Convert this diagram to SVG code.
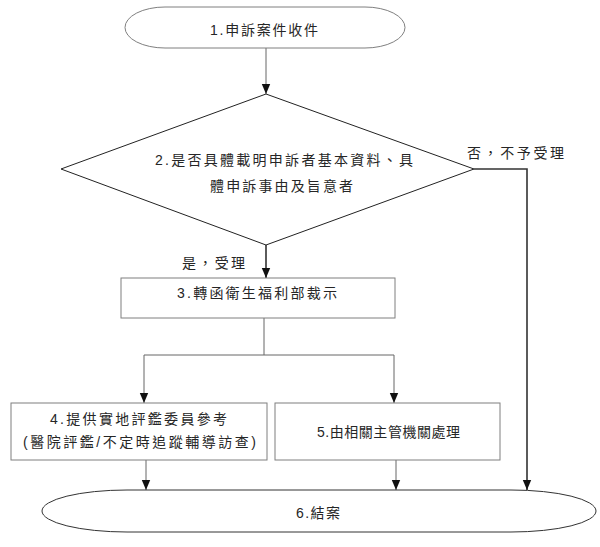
<svg xmlns="http://www.w3.org/2000/svg" width="600" height="547" viewBox="0 0 600 547">
<style>
.shape{fill:#fff;stroke:#7f7f7f;stroke-width:1}
.t{font-family:"Liberation Sans","Noto Sans CJK TC",sans-serif;font-size:14px;fill:#262626}
.c{fill:none;stroke:#666;stroke-width:1}
.c2{fill:none;stroke:#333;stroke-width:1.6}
</style>
<defs>
<marker id="ah" markerUnits="userSpaceOnUse" markerWidth="10" markerHeight="10" viewBox="0 0 10 10" refX="10" refY="5" orient="auto">
<path d="M0,0.8 L10,5 L0,9.2 Z" fill="#111"/>
</marker>
</defs>
<rect width="600" height="547" fill="#fff"/>
<g id="connectors">
<path class="c" d="M266,48 V94" marker-end="url(#ah)"/>
<path class="c2" d="M266,245 V278" marker-end="url(#ah)"/>
<path class="c2" d="M474,169 H527 V490" marker-end="url(#ah)"/>
<path class="c" d="M264,318 V355 M144,355 H394"/>
<path class="c" d="M144,355 V403" marker-end="url(#ah)"/>
<path class="c" d="M394,355 V403" marker-end="url(#ah)"/>
<path class="c" d="M146,460 V490" marker-end="url(#ah)"/>
<path class="c" d="M396,460 V490" marker-end="url(#ah)"/>
<text class="t" x="467" y="158" textLength="97" lengthAdjust="spacing">否，不予受理</text>
<text class="t" x="182" y="268" textLength="63" lengthAdjust="spacing">是，受理</text>
</g>
<g id="n1">
<rect class="shape" x="125" y="7" width="280" height="41" rx="40" ry="20.5"/>
<text class="t" x="210" y="35" textLength="108" lengthAdjust="spacing">1.申訴案件收件</text>
</g>
<g id="n2">
<polygon class="shape" points="266,94 474,169 266,245 61,169" style="stroke:#222"/>
<text class="t" x="155" y="165" textLength="258" lengthAdjust="spacing">2.是否具體載明申訴者基本資料、具</text>
<text class="t" x="210" y="191" textLength="143" lengthAdjust="spacing">體申訴事由及旨意者</text>
</g>
<g id="n3">
<rect class="shape" x="121" y="278" width="274" height="40"/>
<text class="t" x="177" y="298" textLength="160" lengthAdjust="spacing">3.轉函衛生福利部裁示</text>
</g>
<g id="n4">
<rect class="shape" x="11" y="403" width="256" height="57"/>
<text class="t" x="50" y="424" textLength="177" lengthAdjust="spacing">4.提供實地評鑑委員參考</text>
<text class="t" x="23" y="447" textLength="233" lengthAdjust="spacing">(醫院評鑑/不定時追蹤輔導訪查)</text>
</g>
<g id="n5">
<rect class="shape" x="275" y="403" width="225" height="57"/>
<text class="t" x="317" y="437" textLength="143" lengthAdjust="spacing">5.由相關主管機關處理</text>
</g>
<g id="n6">
<rect class="shape" x="42" y="490" width="554" height="42" rx="85" ry="21" style="stroke:#333"/>
<text class="t" x="296" y="518" textLength="44" lengthAdjust="spacing">6.結案</text>
</g>
</svg>
